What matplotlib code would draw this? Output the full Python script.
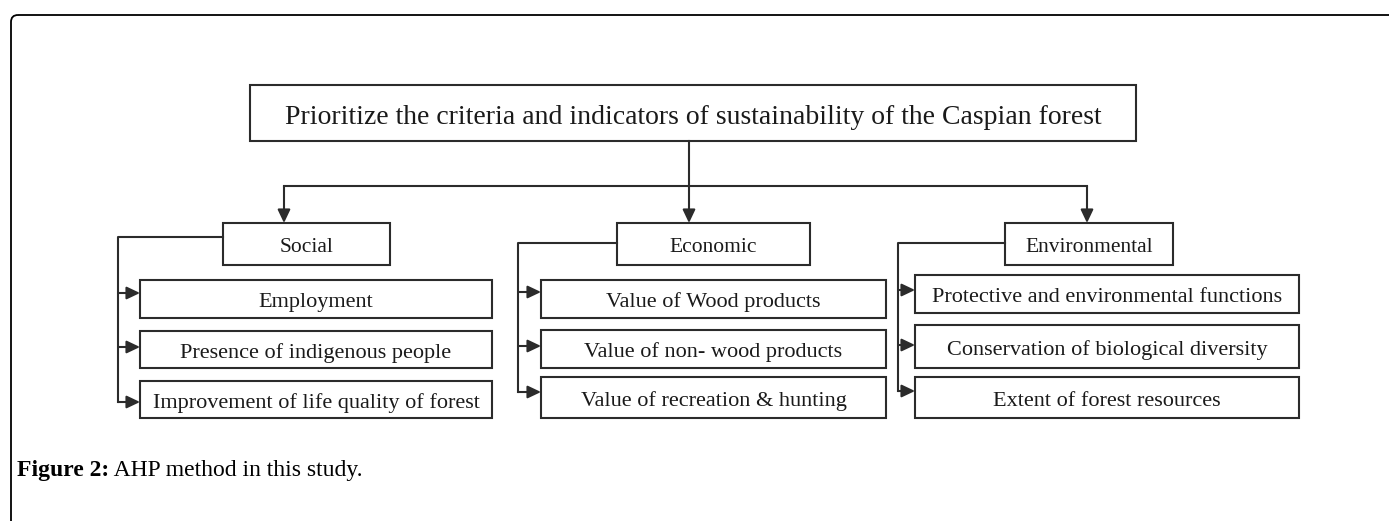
""" AHP hierarchy diagram with matplotlib """
import matplotlib
matplotlib.use("Agg")
import matplotlib.pyplot as plt
from matplotlib.patches import Rectangle, FancyBboxPatch, FancyArrowPatch

""" Labels """
goal = "Prioritize the criteria and indicators of sustainability of the Caspian forest"
criteria = ["Social", "Economic", "Environmental"]
indicators = [
    ["Employment", "Presence of indigenous people", "Improvement of life quality of forest"],
    ["Value of Wood products", "Value of non- wood products", "Value of recreation & hunting"],
    ["Protective and environmental functions", "Conservation of biological diversity",
     "Extent of forest resources"],
]
caption_bold = "Figure 2:"
caption_text = " AHP method in this study."

""" Layout (pixels, y down) """
W, H = 1389, 521
goal_box = (250, 85, 1136, 141)
trunk_x = 689
branch_y = 186
drop_x = [284, 689, 1087]
crit_boxes = [(223, 223, 390, 265), (617, 223, 810, 265), (1005, 223, 1173, 265)]
bracket_x = [118, 518, 898]
bracket_y = [237, 243, 243]
item_x = [(140, 492), (541, 886), (915, 1299)]
item_rows = [
    [(280, 318), (331, 368), (381, 418)],
    [(280, 318), (330, 368), (377, 418)],
    [(275, 313), (325, 368), (377, 418)],
]
arrow_y = [[293, 347, 402], [292, 346, 392], [290, 345, 391]]

edge = "#2b2b2b"
lw = 1.5
serif = "Liberation Serif"

fig = plt.figure(figsize=(W / 100, H / 100), dpi=100)
ax = fig.add_axes([0, 0, 1, 1])
ax.set_xlim(0, W)
ax.set_ylim(H, 0)
ax.axis("off")

# outer frame, cropped at right and bottom
frame = FancyBboxPatch((11, 15), W + 40, H + 40, boxstyle="round,pad=0,rounding_size=7",
                       fill=False, ec="black", lw=1.3, clip_on=True)
ax.add_patch(frame)


def box(x0, y0, x1, y1, label, size):
    ax.add_patch(Rectangle((x0, y0), x1 - x0, y1 - y0, fill=False, ec=edge, lw=lw))
    ax.text((x0 + x1) / 2, (y0 + y1) / 2 + 1, label, ha="center", va="center_baseline",
            fontsize=size, family=serif, color="#1a1a1a")


def arrow(p0, p1):
    ax.add_patch(FancyArrowPatch(p0, p1, arrowstyle="-|>,head_length=0.8,head_width=0.38",
                                 mutation_scale=10, color=edge, lw=lw,
                                 shrinkA=0, shrinkB=0))


box(*goal_box, goal, 20)

# trunk and branch
ax.plot([trunk_x, trunk_x], [goal_box[3], branch_y], color=edge, lw=lw)
ax.plot([drop_x[0], drop_x[-1]], [branch_y, branch_y], color=edge, lw=lw)
for i, name in enumerate(criteria):
    bx = crit_boxes[i]
    arrow((drop_x[i], branch_y), (drop_x[i], bx[1]))
    box(*bx, name, 15.5)

    # bracket to the indicators
    ax.plot([bx[0], bracket_x[i], bracket_x[i]],
            [bracket_y[i], bracket_y[i], arrow_y[i][-1]], color=edge, lw=lw)
    x0, x1 = item_x[i]
    for j, label in enumerate(indicators[i]):
        y0, y1 = item_rows[i][j]
        arrow((bracket_x[i], arrow_y[i][j]), (x0, arrow_y[i][j]))
        box(x0, y0, x1, y1, label, 16)

t1 = ax.text(17, 476, caption_bold, fontsize=17, family=serif, fontweight="bold",
             ha="left", va="baseline", color="black")
ax.annotate(caption_text, xy=(1, 0), xycoords=t1, ha="left", va="bottom",
            fontsize=17, family=serif, color="black")

fig.savefig("out.png", dpi=100)
